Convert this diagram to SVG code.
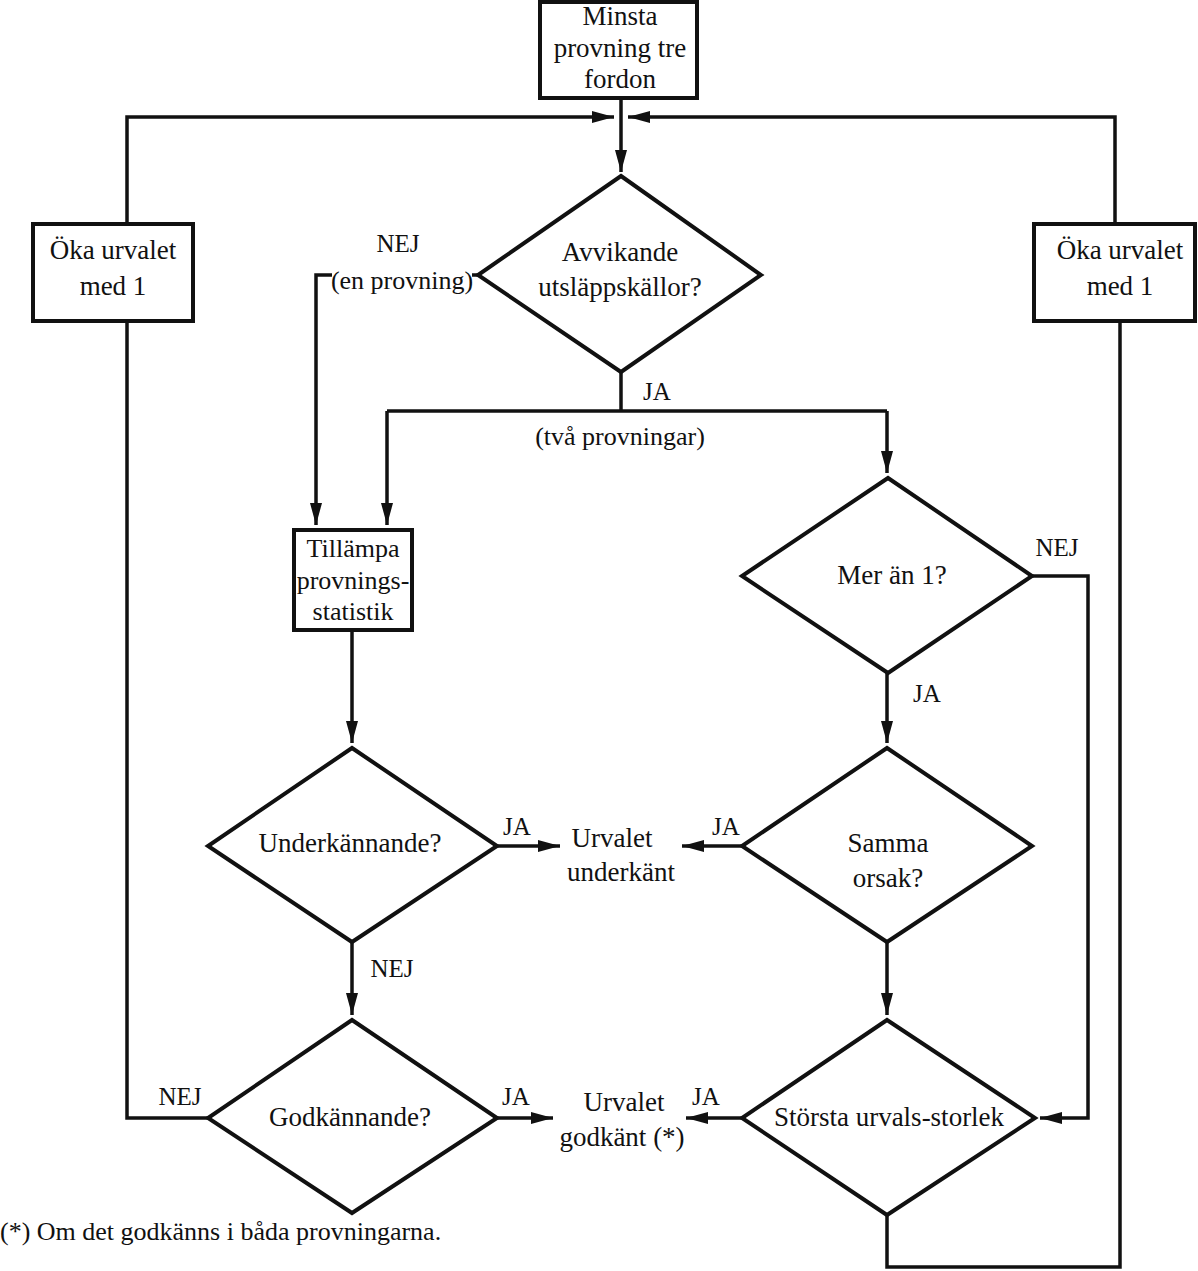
<svg xmlns="http://www.w3.org/2000/svg" width="1198" height="1271" viewBox="0 0 1198 1271">
<style>
  text { font-family: 'Liberation Serif', 'Times New Roman', 'DejaVu Serif', serif; fill: #111; text-anchor: middle; }
  .t { font-size: 27px; }
  .b { font-size: 26px; }
  .s { font-size: 25px; }
  .p { font-size: 26px; }
  .box { fill: #fff; stroke: #111; stroke-width: 4; }
  .dia { fill: #fff; stroke: #111; stroke-width: 4; stroke-linejoin: miter; }
  .ln { fill: none; stroke: #111; stroke-width: 3.5; }
  .ar { fill: none; stroke: #111; stroke-width: 3.5; marker-end: url(#ah); }
</style>
<defs>
  <marker id="ah" markerUnits="userSpaceOnUse" markerWidth="24" markerHeight="14" refX="22" refY="7" orient="auto">
    <path d="M0,1 L22,7 L0,13 z" fill="#111"/>
  </marker>
</defs>

<g id="connectors">
  <path class="ar" d="M621,98 V172"/>
  <path class="ln" d="M208,1118 H127 V322"/>
  <path class="ar" d="M127,224 V117 H614"/>
  <path class="ln" d="M887,1215 V1267 H1120 V321"/>
  <path class="ar" d="M1115,224 V117 H628"/>
  <path class="ar" d="M478,275 H316 V525"/>
  <path class="ln" d="M621,370 V411"/>
  <path class="ln" d="M387,411 H887"/>
  <path class="ar" d="M387,411 V525"/>
  <path class="ar" d="M887,411 V473"/>
  <path class="ar" d="M352,630 V743"/>
  <path class="ar" d="M497,846 H560"/>
  <path class="ar" d="M352,942 V1015"/>
  <path class="ar" d="M497,1118 H553"/>
  <path class="ar" d="M887,673 V743"/>
  <path class="ar" d="M1032,576 H1088 V1118 H1040"/>
  <path class="ar" d="M742,846 H682"/>
  <path class="ar" d="M887,942 V1015"/>
  <path class="ar" d="M742,1118 H686"/>
</g>

<g id="start">
  <rect class="box" x="540" y="2" width="157" height="96"/>
  <text class="t" x="620" y="25">Minsta</text>
  <text class="t" x="620" y="57">provning tre</text>
  <text class="t" x="620" y="88">fordon</text>
</g>

<g id="oka-left">
  <rect class="box" x="33" y="224" width="160" height="97"/>
  <text class="t" x="113" y="259">Öka urvalet</text>
  <text class="t" x="113" y="295">med 1</text>
</g>

<g id="oka-right">
  <rect class="box" x="1034" y="224" width="161" height="97"/>
  <text class="t" x="1120" y="259">Öka urvalet</text>
  <text class="t" x="1120" y="295">med 1</text>
</g>

<g id="avvikande">
  <polygon class="dia" points="621,176 761,275 621,372 478,275"/>
  <text class="t" x="620" y="261">Avvikande</text>
  <text class="t" x="620" y="296">utsläppskällor?</text>
</g>

<g id="labels-top">
  <text class="s" x="398" y="252">NEJ</text>
  <rect x="332" y="265" width="140" height="28" fill="#fff"/>
  <text class="p" x="402" y="289">(en provning)</text>
  <text class="s" x="657" y="400">JA</text>
  <text class="p" x="620" y="445">(två provningar)</text>
</g>

<g id="tillampa">
  <rect class="box" x="294" y="530" width="118" height="100"/>
  <text class="b" x="353" y="557">Tillämpa</text>
  <text class="b" x="353" y="589">provnings-</text>
  <text class="b" x="353" y="620">statistik</text>
</g>

<g id="mer-an-1">
  <polygon class="dia" points="888,478 1032,576 888,673 742,576"/>
  <text class="t" x="892" y="584">Mer än 1?</text>
  <text class="s" x="1057" y="556">NEJ</text>
  <text class="s" x="927" y="702">JA</text>
</g>

<g id="underkannande">
  <polygon class="dia" points="352,748 497,846 352,942 208,846"/>
  <text class="t" x="350" y="852">Underkännande?</text>
  <text class="s" x="517" y="835">JA</text>
  <text class="s" x="392" y="977">NEJ</text>
</g>

<g id="urvalet-underkant">
  <text class="t" x="612" y="847">Urvalet</text>
  <text class="t" x="621" y="881">underkänt</text>
</g>

<g id="samma-orsak">
  <polygon class="dia" points="887,748 1032,846 887,942 742,846"/>
  <text class="t" x="888" y="852">Samma</text>
  <text class="t" x="888" y="887">orsak?</text>
  <text class="s" x="726" y="835">JA</text>
</g>

<g id="godkannande">
  <polygon class="dia" points="352,1020 497,1118 352,1213 208,1118"/>
  <text class="t" x="350" y="1126">Godkännande?</text>
  <text class="s" x="180" y="1105">NEJ</text>
  <text class="s" x="516" y="1105">JA</text>
</g>

<g id="urvalet-godkant">
  <text class="t" x="624" y="1111">Urvalet</text>
  <text class="t" x="622" y="1146">godkänt (*)</text>
</g>

<g id="storsta">
  <polygon class="dia" points="887,1020 1035,1118 887,1215 742,1118"/>
  <text class="t" x="889" y="1126">Största urvals-storlek</text>
  <text class="s" x="706" y="1105">JA</text>
</g>

<g id="footnote">
  <text class="p" x="0" y="1240" style="text-anchor:start">(*) Om det godkänns i båda provningarna.</text>
</g>
</svg>
